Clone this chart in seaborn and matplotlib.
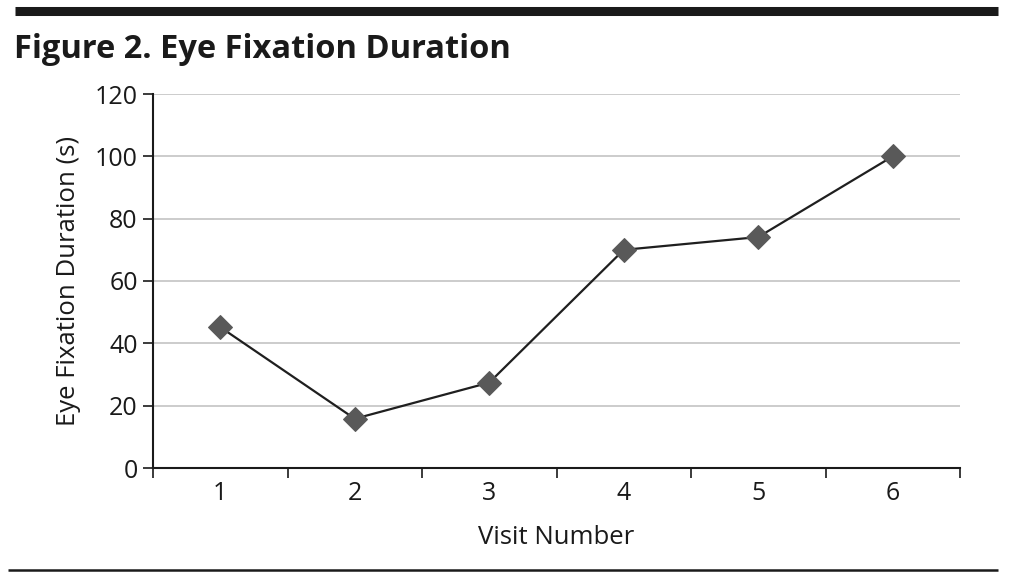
import matplotlib
matplotlib.use("Agg")
import matplotlib.pyplot as plt
import seaborn as sns
import pandas as pd
from matplotlib.lines import Line2D

visits = [1, 2, 3, 4, 5, 6]
durations = [45.2, 15.8, 27.4, 70.0, 74.1, 100.0]
y_ticks = [0, 20, 40, 60, 80, 100, 120]

title = "Figure 2. Eye Fixation Duration"
x_label = "Visit Number"
y_label = "Eye Fixation Duration (s)"

sns.set_theme(style="white")
plt.rcParams['font.family'] = ['Open Sans', 'DejaVu Sans']

df = pd.DataFrame({"visit": visits, "duration": durations})

fig = plt.figure(figsize=(10.1, 5.82), dpi=100)
ax = fig.add_axes([153/1010, 1-468/582, (960-153)/1010, (468-94)/582])

sns.lineplot(data=df, x="visit", y="duration", ax=ax, color="#1f1f1f", linewidth=1.6,
             marker="D", markersize=12.5, markerfacecolor="#595959", markeredgecolor="#595959",
             zorder=3)

ax.set_xlim(0.5, 6.5)
ax.set_ylim(0, 120)
ax.set_yticks(y_ticks)
ax.set_yticklabels([str(v) for v in y_ticks])
ax.set_xticks([v - 0.5 for v in visits] + [visits[-1] + 0.5])
ax.set_xticklabels([])
ax.set_xticks(visits, minor=True)
ax.set_xticklabels([str(v) for v in visits], minor=True)

ax.yaxis.grid(True, color="#c4c4c4", linewidth=1.2)
ax.xaxis.grid(False)
ax.set_axisbelow(True)

for s in ["top", "right"]:
    ax.spines[s].set_visible(False)
for s in ["left", "bottom"]:
    ax.spines[s].set_color("#1a1a1a")
    ax.spines[s].set_linewidth(1.5)

ax.tick_params(axis="y", which="major", direction="out", length=7, width=1.2, color="#1a1a1a",
               labelsize=18, labelcolor="#1a1a1a", pad=4, left=True)
ax.tick_params(axis="x", which="major", direction="out", length=7, width=1.2, color="#1a1a1a",
               bottom=True)
ax.tick_params(axis="x", which="minor", length=0, labelsize=18, labelcolor="#1a1a1a", pad=9)

ax.set_xlabel(x_label, fontsize=18.5, color="#1a1a1a", labelpad=14)
ax.set_ylabel(y_label, fontsize=18.5, color="#1a1a1a", labelpad=10)

# decorative rules
fig.add_artist(Line2D([15/1010, 998/1010], [1-11/582, 1-11/582], color="#1a1a1a", linewidth=6.5,
                      transform=fig.transFigure, solid_capstyle="butt"))
fig.add_artist(Line2D([8/1010, 998/1010], [1-570/582, 1-570/582], color="#1a1a1a", linewidth=1.8,
                      transform=fig.transFigure, solid_capstyle="butt"))

fig.text(14/1010, 1-49/582, title, fontsize=23.5, fontweight="bold", color="#1a1a1a",
         ha="left", va="center")

fig.savefig("out.png", dpi=100)
